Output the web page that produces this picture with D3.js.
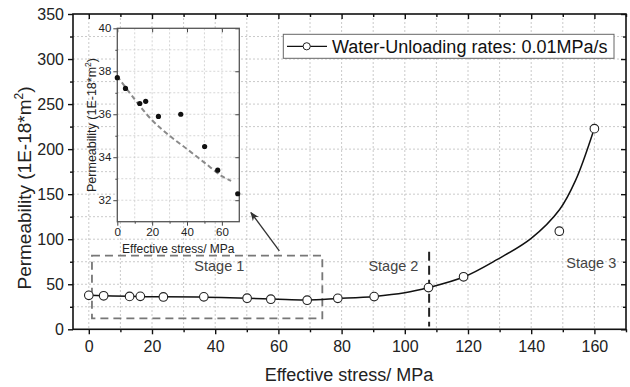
<!DOCTYPE html>
<html>
<head>
<meta charset="utf-8">
<script src="https://cdn.jsdelivr.net/npm/d3@7"></script>
<style>
  body { margin: 0; background: #fff; }
  svg text { font-family: "Liberation Sans", Arial, sans-serif; }
</style>
</head>
<body>
<svg id="chart" width="630" height="387"></svg>
<script>
// measured points (effective stress in MPa, permeability in 1E-18 m2)
var stress = [0, 4.7, 12.9, 16.3, 23.6, 36.4, 50.1, 57.6, 69.1, 78.8, 90.3, 107.5, 118.6, 148.9, 160];
var perm = [37.7, 37.2, 36.5, 36.6, 35.9, 36.0, 34.5, 33.4, 32.3, 34.4, 36.3, 46.3, 58.3, 108.9, 222.7];

// fitted curve of main plot
var fitStress = [0, 12.9, 23.6, 36.4, 50.1, 60, 69.1, 78.8, 90.3, 100, 107.5, 118.6, 129, 140, 149, 154, 159.5];
var fitPerm = [37.7, 36.6, 36.0, 35.7, 34.5, 33.3, 32.6, 34.2, 36.5, 40.5, 46.3, 58.0, 77, 101, 133, 165, 218];

// inset: first stage points and its dashed fit
var insetCount = 9;
var insetFitX = [0, 10, 20, 30, 40, 50, 60, 65.3];
var insetFitY = [37.77, 36.69, 35.72, 35.0, 34.38, 33.75, 33.12, 32.9];

var xTicks = [0, 20, 40, 60, 80, 100, 120, 140, 160];
var yTicks = [0, 50, 100, 150, 200, 250, 300, 350];
var insetXTicks = [0, 20, 40, 60];
var insetYTicks = [32, 34, 36, 38, 40];

var stageLabels = ["Stage 1", "Stage 2", "Stage 3"];
var stageX = [41.3, 96.4, 159];
var stageY = [70, 70, 74];

var plot = {left: 73, right: 626, top: 14, bottom: 329.3};
var inset = {left: 117.3, right: 239.3, top: 28.3, bottom: 221.7};

renderChart();

function renderChart() {
	var svg = d3.select("#chart");

	var x = d3.scaleLinear().domain([-5, 170]).range([plot.left, plot.right]);
	var y = d3.scaleLinear().domain([0, 350]).range([plot.bottom, plot.top]);

	// grid lines, every 10 MPa and every 25 units
	var grid = svg.append("g").attr("stroke", "#bdbdbd").attr("stroke-width", 0.8).attr("stroke-dasharray", "2,2");
	grid.selectAll("line.gx").data(d3.range(0, 170, 10)).enter().append("line")
		.attr("x1", function(d) { return x(d); }).attr("x2", function(d) { return x(d); })
		.attr("y1", plot.top).attr("y2", plot.bottom);
	grid.selectAll("line.gy").data(d3.range(25, 350, 25)).enter().append("line")
		.attr("x1", plot.left).attr("x2", plot.right)
		.attr("y1", function(d) { return y(d); }).attr("y2", function(d) { return y(d); });

	// axes
	var minorX = d3.range(-0, 171, 10).filter(function(d) { return d % 20 != 0; });
	var minorY = d3.range(25, 350, 50);

	drawAxis(svg, d3.axisBottom(x).tickValues(xTicks).tickSize(5).tickPadding(6), "translate(0," + plot.bottom + ")", 16);
	drawAxis(svg, d3.axisBottom(x).tickValues(minorX).tickSize(3).tickFormat(""), "translate(0," + plot.bottom + ")", 16);
	drawAxis(svg, d3.axisLeft(y).tickValues(yTicks).tickSize(5).tickPadding(4), "translate(" + plot.left + ",0)", 16);
	drawAxis(svg, d3.axisLeft(y).tickValues(minorY).tickSize(3).tickFormat(""), "translate(" + plot.left + ",0)", 16);
	drawAxis(svg, d3.axisTop(x).tickValues(xTicks).tickSize(-5).tickFormat(""), "translate(0," + plot.top + ")", 16);
	drawAxis(svg, d3.axisTop(x).tickValues(minorX).tickSize(-3).tickFormat(""), "translate(0," + plot.top + ")", 16);
	drawAxis(svg, d3.axisRight(y).tickValues(yTicks).tickSize(-5).tickFormat(""), "translate(" + plot.right + ",0)", 16);
	drawAxis(svg, d3.axisRight(y).tickValues(minorY).tickSize(-3).tickFormat(""), "translate(" + plot.right + ",0)", 16);

	svg.append("rect")
		.attr("x", plot.left).attr("y", plot.top)
		.attr("width", plot.right - plot.left).attr("height", plot.bottom - plot.top)
		.attr("fill", "none").attr("stroke", "#111").attr("stroke-width", 1.6);

	// axis titles
	svg.append("text")
		.attr("x", 349).attr("y", 381)
		.attr("text-anchor", "middle").attr("font-size", 18).attr("fill", "#222")
		.text("Effective stress/ MPa");

	var yl = svg.append("text")
		.attr("transform", "translate(31,188) rotate(-90)")
		.attr("text-anchor", "middle").attr("font-size", 19).attr("fill", "#222");
	yl.append("tspan").text("Permeability (1E-18*m");
	yl.append("tspan").attr("font-size", 12).attr("dy", -8).text("2");
	yl.append("tspan").attr("dy", 8).text(")");

	// stage 1 box and stage 2 divider
	svg.append("rect")
		.attr("x", x(1)).attr("y", y(81.8))
		.attr("width", x(73.9) - x(1)).attr("height", y(12.2) - y(81.8))
		.attr("fill", "none").attr("stroke", "#777").attr("stroke-width", 1.8)
		.attr("stroke-dasharray", "8,5");

	svg.append("line")
		.attr("x1", x(107.7)).attr("x2", x(107.7))
		.attr("y1", y(86)).attr("y2", y(3))
		.attr("stroke", "#222").attr("stroke-width", 2).attr("stroke-dasharray", "9,5");

	svg.selectAll("text.stage").data(stageLabels).enter().append("text")
		.attr("class", "stage")
		.attr("x", function(d, i) { return x(stageX[i]); })
		.attr("y", function(d, i) { return y(stageY[i]) + 5; })
		.attr("text-anchor", "middle").attr("font-size", 14.5).attr("fill", "#444")
		.text(function(d) { return d; });

	// fitted curve and points
	var fitData = fitStress.map(function(d, i) { return [d, fitPerm[i]]; });
	var line = d3.line()
		.x(function(d) { return x(d[0]); })
		.y(function(d) { return y(d[1]); })
		.curve(d3.curveCatmullRom.alpha(0.5));

	svg.append("path").datum(fitData).attr("d", line)
		.attr("fill", "none").attr("stroke", "#111").attr("stroke-width", 1.5);

	svg.selectAll("circle.pt").data(stress).enter().append("circle")
		.attr("class", "pt")
		.attr("cx", function(d) { return x(d); })
		.attr("cy", function(d, i) { return y(perm[i]); })
		.attr("r", 4.3)
		.attr("fill", "#fff").attr("stroke", "#222").attr("stroke-width", 1.1);

	// arrow from stage 1 box to inset
	svg.append("defs").append("marker")
		.attr("id", "arrowhead").attr("viewBox", "0 0 10 10")
		.attr("refX", 9).attr("refY", 5)
		.attr("markerWidth", 9).attr("markerHeight", 9)
		.attr("markerUnits", "userSpaceOnUse")
		.attr("orient", "auto")
		.append("path").attr("d", "M0,1 L10,5 L0,9 L3,5 Z").attr("fill", "#333");

	svg.append("line")
		.attr("x1", x(60.3)).attr("y1", y(87.1))
		.attr("x2", x(51.3)).attr("y2", y(129.6))
		.attr("stroke", "#333").attr("stroke-width", 1.3)
		.attr("marker-end", "url(#arrowhead)");

	// legend
	svg.append("rect")
		.attr("x", 283.3).attr("y", 34.3).attr("width", 614 - 283.3).attr("height", 24)
		.attr("fill", "#fff").attr("stroke", "#666").attr("stroke-width", 1);
	svg.append("line")
		.attr("x1", 287).attr("x2", 327).attr("y1", 46.3).attr("y2", 46.3)
		.attr("stroke", "#111").attr("stroke-width", 1.3);
	svg.append("circle")
		.attr("cx", 306.7).attr("cy", 46.3).attr("r", 3.6)
		.attr("fill", "#fff").attr("stroke", "#222").attr("stroke-width", 1);
	svg.append("text")
		.attr("x", 332).attr("y", 52.6)
		.attr("font-size", 18).attr("fill", "#111")
		.text("Water-Unloading rates: 0.01MPa/s");

	drawInset(svg);
}

function drawAxis(svg, axis, transform, fontSize) {
	var g = svg.append("g").attr("transform", transform).call(axis);
	g.select(".domain").remove();
	g.selectAll(".tick line").attr("stroke", "#111").attr("stroke-width", 1.4);
	g.selectAll(".tick text").attr("font-size", fontSize).attr("fill", "#222")
		.attr("font-family", "Liberation Sans, Arial, sans-serif");
	return g;
}

function drawInset(svg) {
	var ix = d3.scaleLinear().domain([0, 70]).range([inset.left, inset.right]);
	var iy = d3.scaleLinear().domain([31, 40]).range([inset.bottom, inset.top]);

	var g = svg.append("g");

	g.append("rect")
		.attr("x", inset.left).attr("y", inset.top)
		.attr("width", inset.right - inset.left).attr("height", inset.bottom - inset.top)
		.attr("fill", "#fff");

	var grid = g.append("g").attr("stroke", "#c4c4c4").attr("stroke-width", 0.7).attr("stroke-dasharray", "2,2");
	grid.selectAll("line.gx").data(d3.range(10, 70, 10)).enter().append("line")
		.attr("x1", function(d) { return ix(d); }).attr("x2", function(d) { return ix(d); })
		.attr("y1", inset.top).attr("y2", inset.bottom);
	grid.selectAll("line.gy").data(d3.range(32, 40, 1)).enter().append("line")
		.attr("x1", inset.left).attr("x2", inset.right)
		.attr("y1", function(d) { return iy(d); }).attr("y2", function(d) { return iy(d); });

	var minorX = [10, 30, 50];
	var minorY = [33, 35, 37, 39];

	insetAxis(g, d3.axisBottom(ix).tickValues(insetXTicks).tickSize(4).tickPadding(2), "translate(0," + inset.bottom + ")");
	insetAxis(g, d3.axisBottom(ix).tickValues(minorX).tickSize(2).tickFormat(""), "translate(0," + inset.bottom + ")");
	insetAxis(g, d3.axisLeft(iy).tickValues(insetYTicks).tickSize(4).tickPadding(2), "translate(" + inset.left + ",0)");
	insetAxis(g, d3.axisLeft(iy).tickValues(minorY).tickSize(2).tickFormat(""), "translate(" + inset.left + ",0)");
	insetAxis(g, d3.axisRight(iy).tickValues(insetYTicks).tickSize(-4).tickFormat(""), "translate(" + inset.right + ",0)");
	insetAxis(g, d3.axisTop(ix).tickValues(insetXTicks).tickSize(-4).tickFormat(""), "translate(0," + inset.top + ")");

	g.append("rect")
		.attr("x", inset.left).attr("y", inset.top)
		.attr("width", inset.right - inset.left).attr("height", inset.bottom - inset.top)
		.attr("fill", "none").attr("stroke", "#555").attr("stroke-width", 1.3);

	var fit = insetFitX.map(function(d, i) { return [d, insetFitY[i]]; });
	g.append("path").datum(fit)
		.attr("d", d3.line()
			.x(function(d) { return ix(d[0]); })
			.y(function(d) { return iy(d[1]); })
			.curve(d3.curveCatmullRom.alpha(0.5)))
		.attr("fill", "none").attr("stroke", "#8a8a8a").attr("stroke-width", 2)
		.attr("stroke-dasharray", "5,3");

	g.selectAll("circle.dot").data(stress.slice(0, insetCount)).enter().append("circle")
		.attr("class", "dot")
		.attr("cx", function(d) { return ix(d); })
		.attr("cy", function(d, i) { return iy(perm[i]); })
		.attr("r", 2.6).attr("fill", "#111");

	g.append("text")
		.attr("x", (inset.left + inset.right) / 2).attr("y", 253)
		.attr("text-anchor", "middle").attr("font-size", 12).attr("fill", "#222")
		.text("Effective stress/ MPa");

	var lab = g.append("text")
		.attr("transform", "translate(96," + (inset.top + inset.bottom) / 2 + ") rotate(-90)")
		.attr("text-anchor", "middle").attr("font-size", 12.5).attr("fill", "#222");
	lab.append("tspan").text("Permeability (1E-18*m");
	lab.append("tspan").attr("font-size", 8.5).attr("dy", -5).text("2");
	lab.append("tspan").attr("dy", 5).text(")");
}

function insetAxis(g, axis, transform) {
	var a = g.append("g").attr("transform", transform).call(axis);
	a.select(".domain").remove();
	a.selectAll(".tick line").attr("stroke", "#444").attr("stroke-width", 1);
	a.selectAll(".tick text").attr("font-size", 11.5).attr("fill", "#222")
		.attr("font-family", "Liberation Sans, Arial, sans-serif");
	return a;
}
</script>
</body>
</html>
